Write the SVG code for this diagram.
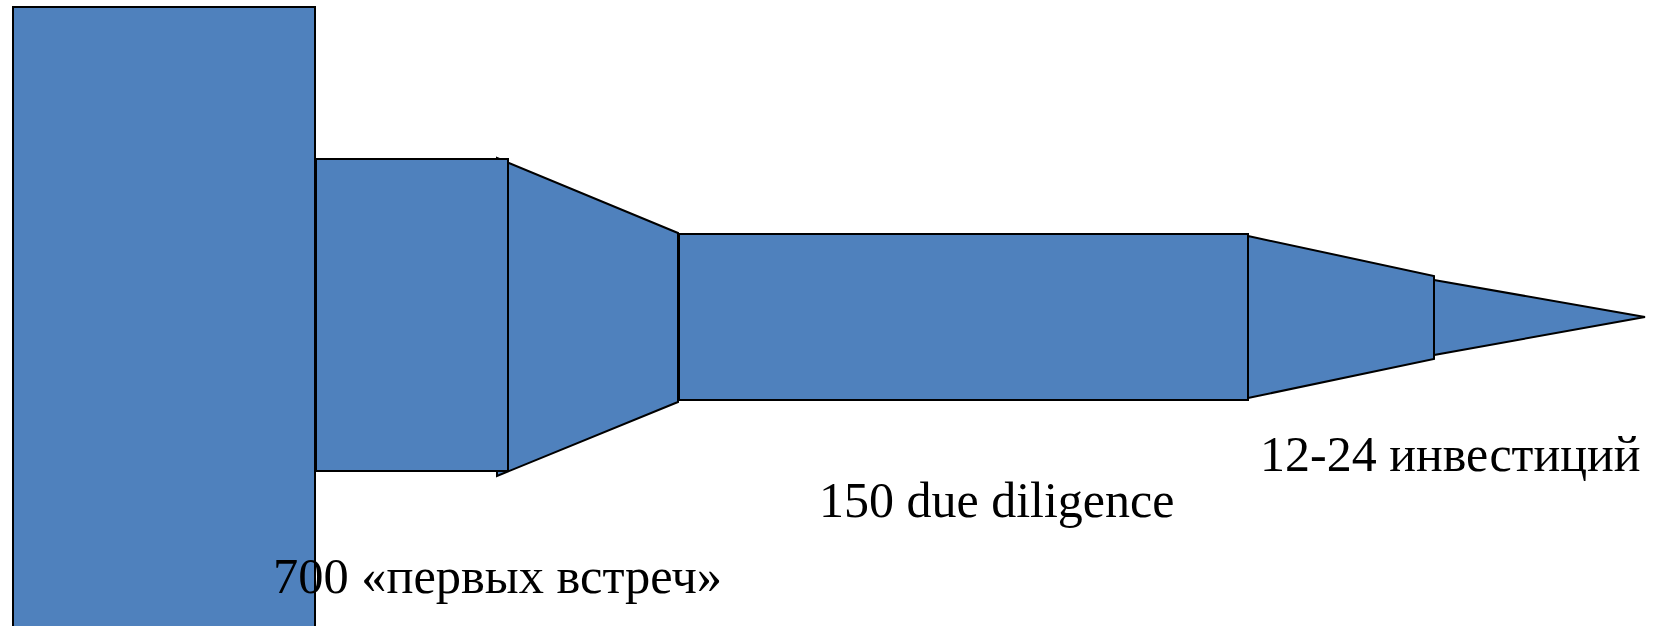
<svg xmlns="http://www.w3.org/2000/svg" width="1660" height="626" viewBox="0 0 1660 626">
<style>
.s{fill:#4F81BD;stroke:#000;stroke-width:2;stroke-linejoin:miter}
.t{font-family:"Liberation Serif","Times New Roman",serif;font-size:50px;fill:#000}
</style>
<rect width="1660" height="626" fill="#fff"/>
<g id="stage1"><rect class="s" x="13" y="7" width="302" height="640"/></g>
<g id="funnel1"><polygon class="s" points="497,158 678,233 678,402 497,476"/></g>
<g id="stage2"><rect class="s" x="316" y="159" width="192" height="312"/></g>
<g id="stage3"><rect class="s" x="679" y="234" width="569" height="166"/></g>
<g id="funnel2"><polygon class="s" points="1248,236 1434,276 1434,359 1248,398"/></g>
<g id="stage4"><polygon class="s" points="1434,280 1645,317 1434,355"/></g>
<g id="labels">
<text class="t" x="273" y="593" textLength="449" lengthAdjust="spacingAndGlyphs">700 «первых встреч»</text>
<text class="t" x="819" y="517">150 due diligence</text>
<text class="t" x="1260" y="471">12-24 инвестиций</text>
</g>
<g id="connectors"/>
</svg>
